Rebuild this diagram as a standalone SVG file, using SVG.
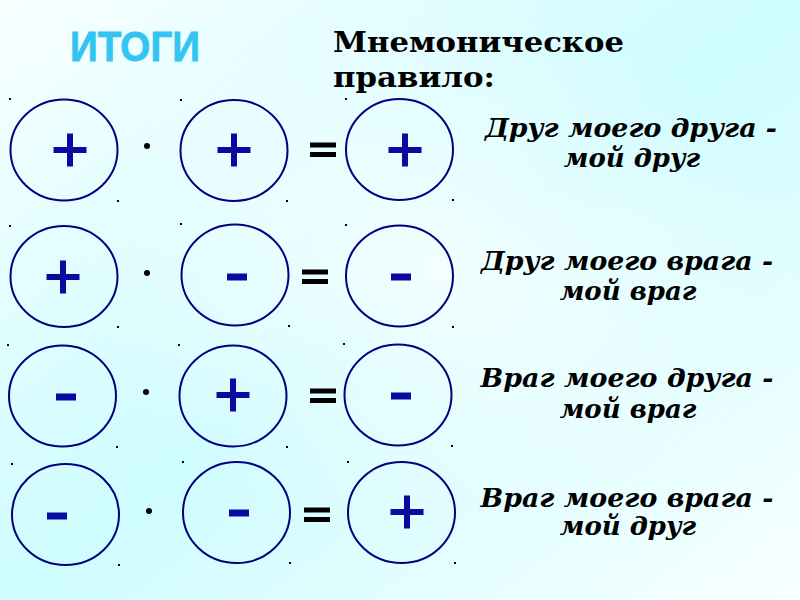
<svg xmlns="http://www.w3.org/2000/svg" width="800" height="600" viewBox="0 0 800 600">
<defs>
<linearGradient id="bg" x1="0" y1="0" x2="1" y2="1">
<stop offset="0" stop-color="#f8ffff"/>
<stop offset="0.5" stop-color="#cefcff"/>
<stop offset="1" stop-color="#f8ffff"/>
</linearGradient>
<radialGradient id="glow" cx="0.55" cy="0.45" r="0.45">
<stop offset="0" stop-color="#ffffff" stop-opacity="0.75"/>
<stop offset="1" stop-color="#ffffff" stop-opacity="0"/>
</radialGradient>
<g id="plus"><rect x="-16.5" y="-3" width="33" height="6"/><rect x="-3" y="-16.5" width="6" height="33"/></g>
<rect id="minus" x="-10" y="-3.5" width="20" height="7"/>
<g id="eq"><rect x="-13" y="-7.5" width="26" height="5"/><rect x="-13" y="2" width="26" height="5"/></g>
</defs>
<style>
.c{fill:none;stroke:#000080;stroke-width:2}
.s{fill:#0a0aa0}
.k{fill:#000}
.h{fill:#000;font-family:"DejaVu Serif",serif;font-weight:bold;font-size:28px}
.r{fill:#000;font-family:"DejaVu Serif",serif;font-weight:bold;font-style:italic;font-size:26px;text-anchor:middle}
.t{fill:#33c4f2;font-family:"Liberation Sans",Arial,sans-serif;font-weight:bold;font-size:42px;stroke:#33c4f2;stroke-width:0.8}
</style>
<rect width="800" height="600" fill="url(#bg)"/>
<rect width="800" height="600" fill="url(#glow)"/>
<g id="title"><text class="t" x="70" y="61" textLength="130" lengthAdjust="spacingAndGlyphs">ИТОГИ</text></g>
<g id="heading">
<text class="h" x="333" y="52" textLength="291" lengthAdjust="spacingAndGlyphs">Мнемоническое</text>
<text class="h" x="333" y="87" textLength="162" lengthAdjust="spacingAndGlyphs">правило:</text>
</g>
<g id="row1">
<g id="r1c1"><ellipse class="c" cx="64" cy="150" rx="53.5" ry="50.5"/><use href="#plus" class="s" x="70" y="150"/><rect class="k" x="9" y="98" width="2" height="2"/><rect class="k" x="117" y="200" width="2" height="2"/></g>
<circle class="k" cx="147" cy="146" r="3"/>
<g id="r1c2"><ellipse class="c" cx="234" cy="150.5" rx="53.5" ry="50.5"/><use href="#plus" class="s" x="234" y="150"/><rect class="k" x="180" y="99" width="2" height="2"/><rect class="k" x="286" y="200" width="2" height="2"/></g>
<use href="#eq" class="k" x="323" y="150"/>
<g id="r1c3"><ellipse class="c" cx="399.5" cy="149.5" rx="53.5" ry="50.5"/><use href="#plus" class="s" x="405" y="150"/><rect class="k" x="345" y="98" width="2" height="2"/><rect class="k" x="452" y="199" width="2" height="2"/></g>
<text class="r" x="631" y="137" textLength="292" lengthAdjust="spacingAndGlyphs">Друг моего друга -</text>
<text class="r" x="632" y="167">мой друг</text>
</g>
<g id="row2">
<g id="r2c1"><ellipse class="c" cx="64" cy="276.5" rx="53.5" ry="50.5"/><use href="#plus" class="s" x="63" y="277"/><rect class="k" x="9" y="225" width="2" height="2"/><rect class="k" x="117" y="326" width="2" height="2"/></g>
<circle class="k" cx="147" cy="273" r="3"/>
<g id="r2c2"><ellipse class="c" cx="235" cy="275" rx="53.5" ry="50.5"/><use href="#minus" class="s" x="237" y="277"/><rect class="k" x="180" y="223" width="2" height="2"/><rect class="k" x="288" y="325" width="2" height="2"/></g>
<use href="#eq" class="k" x="315" y="277"/>
<g id="r2c3"><ellipse class="c" cx="399.5" cy="276" rx="53.5" ry="50.5"/><use href="#minus" class="s" x="401" y="277"/><rect class="k" x="345" y="224" width="2" height="2"/><rect class="k" x="452" y="326" width="2" height="2"/></g>
<text class="r" x="627" y="270" textLength="292" lengthAdjust="spacingAndGlyphs">Друг моего врага -</text>
<text class="r" x="628" y="300">мой враг</text>
</g>
<g id="row3">
<g id="r3c1"><ellipse class="c" cx="62.5" cy="396" rx="53.5" ry="50.5"/><use href="#minus" class="s" x="66" y="397"/><rect class="k" x="7" y="344" width="2" height="2"/><rect class="k" x="116" y="446" width="2" height="2"/></g>
<circle class="k" cx="146" cy="392" r="3"/>
<g id="r3c2"><ellipse class="c" cx="233" cy="396" rx="53.5" ry="50.5"/><use href="#plus" class="s" x="233" y="395"/><rect class="k" x="178" y="344" width="2" height="2"/><rect class="k" x="286" y="446" width="2" height="2"/></g>
<use href="#eq" class="k" x="323" y="396"/>
<g id="r3c3"><ellipse class="c" cx="398" cy="395" rx="53.5" ry="50.5"/><use href="#minus" class="s" x="401" y="396"/><rect class="k" x="343" y="343" width="2" height="2"/><rect class="k" x="451" y="445" width="2" height="2"/></g>
<text class="r" x="627" y="387" textLength="293" lengthAdjust="spacingAndGlyphs">Враг моего друга -</text>
<text class="r" x="628" y="418">мой враг</text>
</g>
<g id="row4">
<g id="r4c1"><ellipse class="c" cx="65.5" cy="514.5" rx="53.5" ry="50.5"/><use href="#minus" class="s" x="57" y="516"/><rect class="k" x="11" y="463" width="2" height="2"/><rect class="k" x="118" y="564" width="2" height="2"/></g>
<circle class="k" cx="149" cy="511" r="3"/>
<g id="r4c2"><ellipse class="c" cx="236.5" cy="512.5" rx="53.5" ry="50.5"/><use href="#minus" class="s" x="239" y="513"/><rect class="k" x="182" y="461" width="2" height="2"/><rect class="k" x="289" y="562" width="2" height="2"/></g>
<use href="#eq" class="k" x="317" y="515"/>
<g id="r4c3"><ellipse class="c" cx="401.5" cy="512.5" rx="53.5" ry="50.5"/><use href="#plus" class="s" x="407" y="512"/><rect class="k" x="347" y="461" width="2" height="2"/><rect class="k" x="454" y="562" width="2" height="2"/></g>
<text class="r" x="627" y="507" textLength="293" lengthAdjust="spacingAndGlyphs">Враг моего врага -</text>
<text class="r" x="628" y="535">мой друг</text>
</g>
</svg>
